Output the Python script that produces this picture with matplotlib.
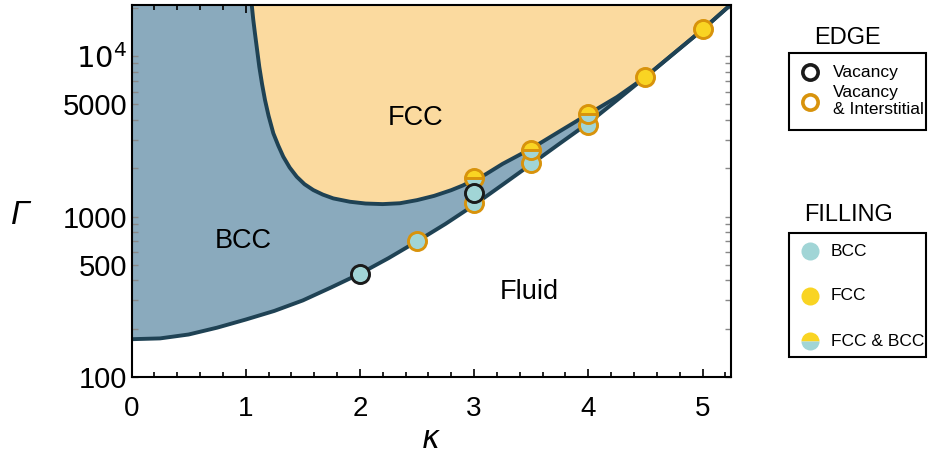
import matplotlib
matplotlib.use("Agg")
import matplotlib.pyplot as plt
from matplotlib.patches import Rectangle
from matplotlib.ticker import FixedLocator, FixedFormatter, MultipleLocator

plt.rcParams['font.family'] = ['Liberation Sans', 'DejaVu Sans']

# ---------------- data ----------------
# fluid / solid melting line
kappa_melt = [0, 0.25, 0.5, 0.75, 1.0, 1.25, 1.5, 1.75, 2.0, 2.25, 2.5, 2.75,
              3.0, 3.25, 3.5, 3.75, 4.0, 4.25, 4.5, 4.75, 5.0, 5.25]
gamma_melt = [172, 174, 184, 203, 228, 258, 300, 362, 440, 550, 700, 900,
              1180, 1580, 2120, 2850, 3820, 5300, 7400, 10400, 14600, 21000]

# BCC / FCC boundary
kappa_bf = [1.053, 1.066, 1.081, 1.1, 1.119, 1.143, 1.169, 1.2, 1.242, 1.285,
            1.329, 1.385, 1.447, 1.515, 1.592, 1.675, 1.767, 1.913, 2.05, 2.2,
            2.35, 2.5, 2.65, 2.8, 2.9, 3.0, 3.1, 3.25, 3.5, 3.75, 4.0, 4.25,
            4.5, 4.75, 5.0, 5.25]
gamma_bf = [20800, 16900, 13850, 10900, 8570, 6700, 5320, 4250, 3300, 2770,
            2360, 2020, 1770, 1590, 1462, 1370, 1297, 1236, 1205, 1195,
            1210, 1265, 1345, 1460, 1560, 1690, 1830, 2130, 2650, 3400, 4350, 5550,
            7400, 10400, 14600, 21000]

# simulation points: kappa, Gamma, filling, edge
pt_kappa = [2.0, 2.5, 3.0, 3.0, 3.0, 3.5, 3.5, 4.0, 4.0, 4.5, 5.0]
pt_gamma = [436, 703, 1208, 1407, 1730, 2145, 2597, 3716, 4335, 7430, 14660]
pt_fill = ['BCC', 'BCC', 'BCC', 'BCC', 'FCC & BCC', 'BCC', 'FCC & BCC',
           'BCC', 'FCC & BCC', 'FCC', 'FCC']
pt_edge = ['Vacancy', 'Vacancy & Interstitial', 'Vacancy & Interstitial', 'Vacancy',
           'Vacancy & Interstitial', 'Vacancy & Interstitial', 'Vacancy & Interstitial',
           'Vacancy & Interstitial', 'Vacancy & Interstitial', 'Vacancy & Interstitial',
           'Vacancy & Interstitial']

region_labels = ['FCC', 'BCC', 'Fluid']
region_kappa = [2.49, 0.98, 3.48]
region_gamma = [4110, 703, 339]

ytick_vals = [100, 500, 1000, 5000, 10000]
ytick_labels = ['100', '500', '1000', '5000', r'$10^4$']

# ---------------- style ----------------
C_BCC_FILL = '#8aaabd'
C_FCC_FILL = '#fbda9f'
C_LINE = '#1f4254'
C_TEAL = '#a1d5d6'
C_YEL = '#f9d423'
C_ORANGE = '#d8930c'
C_BLACK = '#1a1a1a'

W, H = 931, 457
fig = plt.figure(figsize=(W / 100, H / 100), dpi=100)
ax = fig.add_axes([131.5 / W, (H - 377) / H, (730.5 - 131.5) / W, (377 - 5) / H])

YTOP = 20800
ax.set_yscale('log')
ax.set_xlim(0, 5.245)
ax.set_ylim(100, YTOP)

# regions
ax.fill_between(kappa_melt, gamma_melt, YTOP, color=C_BCC_FILL, lw=0, zorder=1)
ax.fill_between(kappa_bf, gamma_bf, YTOP, color=C_FCC_FILL, lw=0, zorder=2)
ax.plot(kappa_melt, gamma_melt, color=C_LINE, lw=2.8, zorder=3, solid_joinstyle='round')
ax.plot(kappa_bf, gamma_bf, color=C_LINE, lw=2.8, zorder=3, solid_joinstyle='round')

edge_col = {'Vacancy': C_BLACK, 'Vacancy & Interstitial': C_ORANGE}
order = [1, 2, 5, 7, 0, 4, 3, 6, 8, 9, 10]
for z, i in enumerate(order):
    f = pt_fill[i]
    kw = dict(marker='o', ms=13, mew=2.1, mec=edge_col[pt_edge[i]], ls='none',
              zorder=5 + z)
    if f == 'BCC':
        kw.update(mfc=C_TEAL)
    elif f == 'FCC':
        kw.update(mfc=C_YEL)
    else:
        kw.update(mfc=C_YEL, mfcalt=C_TEAL, fillstyle='top')
    ax.plot([pt_kappa[i]], [pt_gamma[i]], **kw)

for lab, kx, gy in zip(region_labels, region_kappa, region_gamma):
    ax.text(kx, gy, lab, fontsize=19.5, ha='center', va='center', zorder=20)

# axes styling
for s in ax.spines.values():
    s.set_linewidth(1.5)
    s.set_color('black')
    s.set_zorder(30)
ax.xaxis.set_major_locator(MultipleLocator(1))
ax.xaxis.set_minor_locator(MultipleLocator(0.2))
ax.yaxis.set_major_locator(FixedLocator(ytick_vals))
ax.yaxis.set_major_formatter(FixedFormatter(ytick_labels))
minor_y = [m * 10 ** e for e in (2, 3, 4) for m in range(2, 10)
           if m * 10 ** e < YTOP and m != 5]
ax.yaxis.set_minor_locator(FixedLocator(minor_y))
ax.tick_params(axis='x', which='both', direction='in', top=True, bottom=True,
               labelsize=20, pad=14, width=1.2, color='black')
ax.tick_params(axis='x', which='major', length=6)
ax.tick_params(axis='x', which='minor', length=3.5)
ax.tick_params(axis='y', which='both', direction='in', left=True, right=True,
               labelsize=21, pad=3, width=1.0, color='#888888', length=4)
for t in ax.get_xticklines() + ax.get_yticklines():
    t.set_zorder(31)

ax.set_xlabel(r'$\mathit{\kappa}$', fontsize=22, labelpad=2)
fig.text(20 / W, 1 - 216 / H, 'Γ', fontsize=24, style='italic', ha='center', va='center')

# ---------------- legends (drawn in a pixel-coordinate overlay) ----------------
lg = fig.add_axes([0, 0, 1, 1])
lg.set_xlim(0, W)
lg.set_ylim(H, 0)
lg.axis('off')

lg.text(848, 38, 'EDGE', fontsize=17, ha='center', va='center')
lg.add_patch(Rectangle((789, 53), 137, 77, fill=False, lw=1.5, ec='black'))
lg.plot([810], [72], marker='o', ms=11, mfc='none', mec=C_BLACK, mew=2.6)
lg.plot([810], [102], marker='o', ms=11, mfc='none', mec=C_ORANGE, mew=2.6)
lg.text(833, 72, 'Vacancy', fontsize=12.5, ha='left', va='center')
lg.text(833, 101, 'Vacancy\n& Interstitial', fontsize=12.5, ha='left', va='center',
        linespacing=1.25)

lg.text(848, 215, 'FILLING', fontsize=17, ha='center', va='center')
lg.add_patch(Rectangle((789, 233), 137, 124, fill=False, lw=1.5, ec='black'))
lg.plot([810], [251], marker='o', ms=13, mfc=C_TEAL, mec='none')
lg.plot([810], [296], marker='o', ms=13, mfc=C_YEL, mec='none')
lg.plot([810], [341], marker='o', ms=13, mfc=C_YEL, mfcalt=C_TEAL, fillstyle='top',
        mec='none')
lg.text(831, 251, 'BCC', fontsize=12.5, ha='left', va='center')
lg.text(831, 296, 'FCC', fontsize=12.5, ha='left', va='center')
lg.text(831, 341, 'FCC & BCC', fontsize=12.5, ha='left', va='center')

fig.savefig('out.png', dpi=100)
